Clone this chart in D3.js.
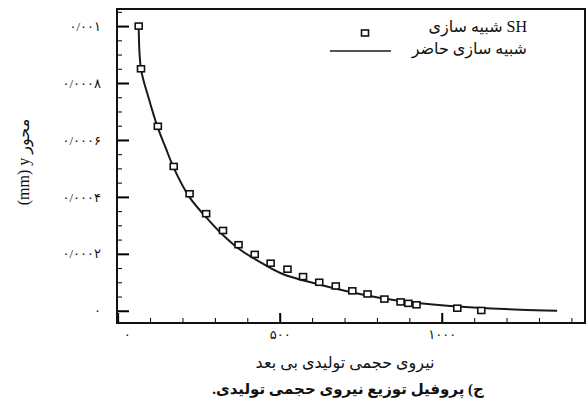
<!DOCTYPE html>
<html>
<head>
<meta charset="utf-8">
<script src="https://cdn.jsdelivr.net/npm/d3@7"></script>
<style>
  body { margin: 0; background: #fff; }
  svg { display: block; }
  text { font-family: "Liberation Serif", "DejaVu Sans", serif; fill: #111; }
</style>
</head>
<body>
<section></section>
<script>
// SH simulation points (square markers)
const shX = [65, 72, 124, 173, 222, 273, 325, 373, 423, 472, 524, 572, 622, 673, 724, 771, 823, 873, 897, 922, 1048, 1122];
const shY = [0.001, 0.00085, 0.000648, 0.000507, 0.000411, 0.000341, 0.000282, 0.000232, 0.000198, 0.000167,
             0.000146, 0.00012, 0.0001, 0.000087, 0.00007, 0.000059, 0.000041, 0.000031, 0.000026, 0.000021,
             0.000009, 0.000001];

// present simulation (solid curve)
const curveX = [65, 72, 95, 123, 148, 173, 221, 274, 324, 374, 423, 509, 615, 718, 820, 925, 1026, 1128, 1242, 1356];
const curveY = [0.001004, 0.00085, 0.00075, 0.000646, 0.000573, 0.000502, 0.0004, 0.000327, 0.000267, 0.000218,
                0.000182, 0.000129, 0.0000943, 0.0000662, 0.0000433, 0.0000275, 0.0000169, 0.0000099, 0.0000035, 0];

// ticks
const xTickValues = [0, 500, 1000];
const xTickLabels = ["۰", "۵۰۰", "۱۰۰۰"];
const xMinorTicks = [100, 200, 300, 400, 600, 700, 800, 900, 1100, 1200, 1300, 1400];
const yTickValues = [0, 0.0002, 0.0004, 0.0006, 0.0008, 0.001];
const yTickLabels = ["۰", "۰/۰۰۰۲", "۰/۰۰۰۴", "۰/۰۰۰۶", "۰/۰۰۰۸", "۰/۰۰۱"];
const yMinorTicks = [0.00005, 0.0001, 0.00015, 0.00025, 0.0003, 0.00035, 0.00045, 0.0005, 0.00055,
                     0.00065, 0.0007, 0.00075, 0.00085, 0.0009, 0.00095, 0.00105];

const legendLabels = ["شبیه سازی SH", "شبیه سازی حاضر"];
const xTitle = "نیروی حجمی تولیدی بی بعد";
const yTitle = "(mm) y محور";
const caption = "ج) پروفیل توزیع نیروی حجمی تولیدی.";

const width = 587;
const height = 407;
const marginTop = 9;
const marginRight = 2;
const marginBottom = 84;
const marginLeft = 117;

const x = d3.scaleLinear()
    .domain([-2, 1442])
    .range([marginLeft, width - marginRight]);

const y = d3.scaleLinear()
    .domain([-0.000043, 0.00106])
    .range([height - marginBottom, marginTop]);

const svg = d3.select("section")
    .append("svg")
    .attr("width", width)
    .attr("height", height)
    .attr("viewBox", [0, 0, width, height]);

svg.append("rect")
    .attr("width", width)
    .attr("height", height)
    .attr("fill", "#fff");

// minor ticks
svg.append("g")
    .attr("transform", `translate(0,${height - marginBottom})`)
    .call(d3.axisBottom(x).tickValues(xMinorTicks).tickFormat("").tickSizeInner(-5).tickSizeOuter(0))
    .call(g => g.select(".domain").remove());

svg.append("g")
    .attr("transform", `translate(${marginLeft},0)`)
    .call(d3.axisLeft(y).tickValues(yMinorTicks).tickFormat("").tickSizeInner(-5).tickSizeOuter(0))
    .call(g => g.select(".domain").remove());

// major ticks + labels
svg.append("g")
    .attr("transform", `translate(0,${height - marginBottom})`)
    .call(d3.axisBottom(x)
        .tickValues(xTickValues)
        .tickFormat((d, i) => xTickLabels[i])
        .tickSizeInner(-10)
        .tickSizeOuter(0)
        .tickPadding(7))
    .call(g => g.select(".domain").remove())
    .call(g => g.selectAll("line").attr("stroke-width", 2))
    .call(g => g.selectAll("text").attr("font-size", 13).attr("fill", "#111"))
    .call(g => g.selectAll(".tick").filter(d => d === 0).select("text").attr("dx", 9));

svg.append("g")
    .attr("transform", `translate(${marginLeft},0)`)
    .call(d3.axisLeft(y)
        .tickValues(yTickValues)
        .tickFormat((d, i) => yTickLabels[i])
        .tickSizeInner(-12)
        .tickSizeOuter(0)
        .tickPadding(16))
    .call(g => g.select(".domain").remove())
    .call(g => g.selectAll("line").attr("stroke-width", 2))
    .call(g => g.selectAll("text").attr("font-size", 13).attr("fill", "#111"));

// frame
svg.append("rect")
    .attr("x", marginLeft)
    .attr("y", marginTop)
    .attr("width", width - marginRight - marginLeft)
    .attr("height", height - marginBottom - marginTop)
    .attr("fill", "none")
    .attr("stroke", "#111")
    .attr("stroke-width", 2);

// curve
const curve = curveX.map((d, i) => [d, curveY[i]]);
svg.append("path")
    .datum(curve)
    .attr("fill", "none")
    .attr("stroke", "#1a1a1a")
    .attr("stroke-width", 2)
    .attr("d", d3.line()
        .x(d => x(d[0]))
        .y(d => y(d[1]))
        .curve(d3.curveCatmullRom.alpha(0.5)));

// square markers
const points = shX.map((d, i) => [d, shY[i]]);
svg.append("g")
    .attr("fill", "#fff")
    .attr("stroke", "#111")
    .attr("stroke-width", 1.6)
    .selectAll("rect")
    .data(points)
    .join("rect")
    .attr("x", d => x(d[0]) - 3.5)
    .attr("y", d => y(d[1]) - 3)
    .attr("width", 7)
    .attr("height", 6);

// legend
const legend = svg.append("g");
legend.append("rect")
    .attr("x", 361.5).attr("y", 30)
    .attr("width", 7).attr("height", 6)
    .attr("fill", "#fff").attr("stroke", "#111").attr("stroke-width", 1.6);
legend.append("line")
    .attr("x1", 330).attr("x2", 391)
    .attr("y1", 51).attr("y2", 51)
    .attr("stroke", "#1a1a1a").attr("stroke-width", 1.6);
legend.selectAll("text")
    .data(legendLabels)
    .join("text")
    .attr("x", 527)
    .attr("y", (d, i) => 32 + i * 22)
    .attr("text-anchor", "end")
    .attr("font-size", 16)
    .text(d => d);

// axis titles
svg.append("text")
    .attr("x", 345)
    .attr("y", 368)
    .attr("text-anchor", "middle")
    .attr("font-size", 16)
    .text(xTitle);

svg.append("text")
    .attr("transform", "translate(29,162) rotate(-90)")
    .attr("text-anchor", "middle")
    .attr("font-size", 16)
    .text(yTitle);

svg.append("text")
    .attr("x", 348)
    .attr("y", 394)
    .attr("text-anchor", "middle")
    .attr("direction", "rtl")
    .attr("font-size", 15)
    .attr("font-weight", "bold")
    .text(caption);
</script>
</body>
</html>
